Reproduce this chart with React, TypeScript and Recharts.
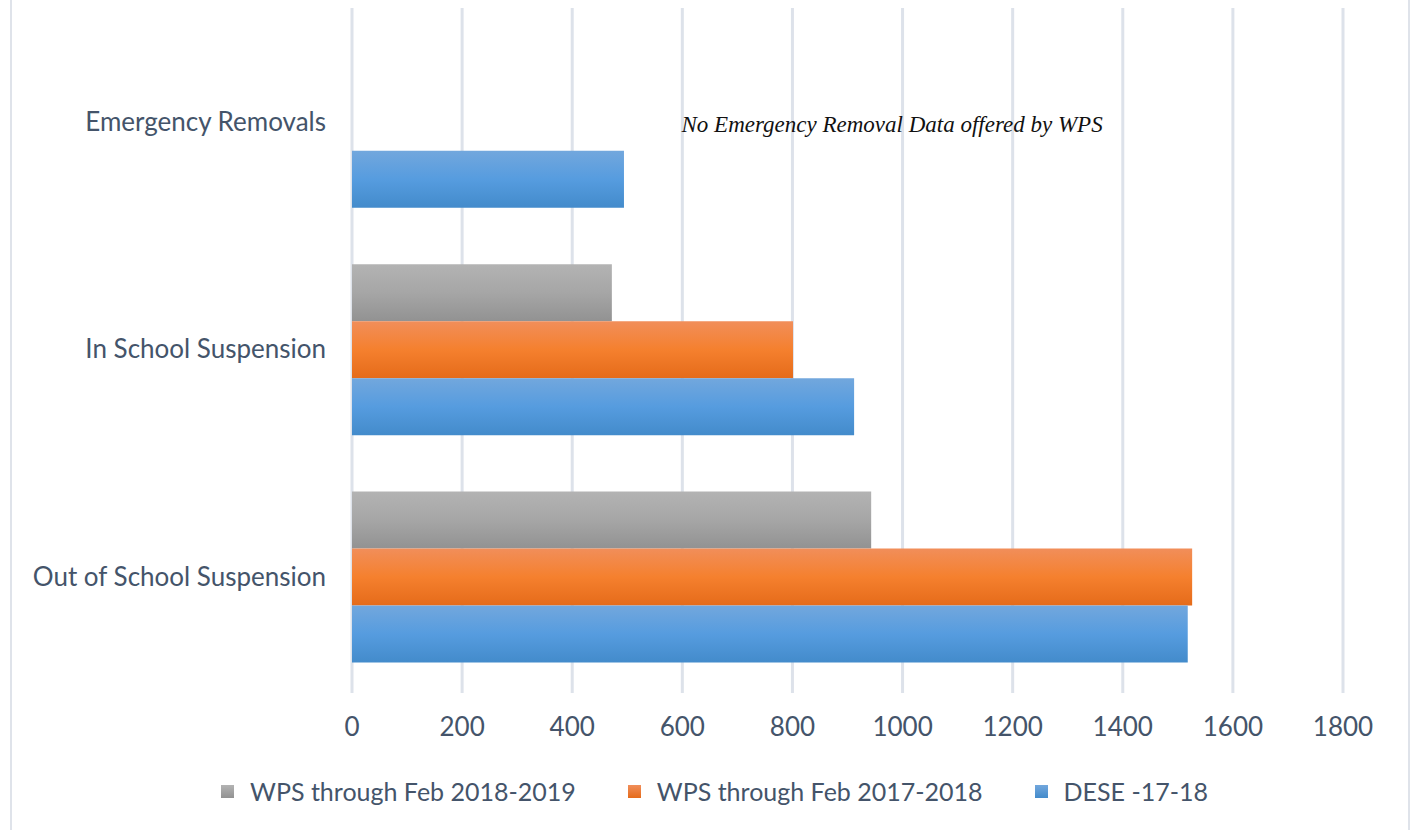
import React from 'react';
import { BarChart, Bar, XAxis, YAxis, CartesianGrid, Legend, ReferenceDot } from 'recharts';

// categories, top to bottom
const categories = ['Emergency Removals', 'In School Suspension', 'Out of School Suspension'];

// series values (null = no data)
const wps1819 = [null, 472, 943];
const wps1718 = [null, 801, 1526];
const dese1718 = [494, 912, 1518];

const seriesNames = ['WPS through Feb 2018-2019', 'WPS through Feb 2017-2018', 'DESE -17-18'];
const xTicks = [0, 200, 400, 600, 800, 1000, 1200, 1400, 1600, 1800];

const noteText = 'No Emergency Removal Data offered by WPS';
const noteX = 981;

const gradients = [
  { id: 'gGray', stops: ['#b3b3b3', '#a6a6a6', '#929292'] },
  { id: 'gOrange', stops: ['#f18e5a', '#f5802e', '#e56b1a'] },
  { id: 'gBlue', stops: ['#72a7dd', '#569cdf', '#438bcb'] },
];

const data = categories.map((name, i) => ({
  name,
  wps1819: wps1819[i],
  wps1718: wps1718[i],
  dese: dese1718[i],
}));

const textColor = '#44546a';
const gridColor = '#dde2ea';
const font = 'Lato, "Noto Sans", sans-serif';

const renderLegend = () => (
  <div
    style={{
      display: 'flex',
      justifyContent: 'center',
      alignItems: 'center',
      gap: 52,
      height: 40,
      fontFamily: font,
      fontSize: 25,
      color: textColor,
      paddingLeft: 86,
    }}
  >
    {seriesNames.map((n, i) => (
      <div key={n} style={{ display: 'flex', alignItems: 'center', gap: 16 }}>
        <span
          style={{
            width: 13,
            height: 13,
            display: 'inline-block',
            background: `linear-gradient(${gradients[i].stops[0]}, ${gradients[i].stops[2]})`,
          }}
        />
        <span>{n}</span>
      </div>
    ))}
  </div>
);

const App: React.FC = () => {
  return (
    <div style={{ position: 'absolute', left: 0, top: 0, width: 1411, height: 830, background: '#fff' }}>
      <div
        style={{
          position: 'absolute',
          left: 10,
          top: 0,
          width: 1396,
          height: 830,
          borderLeft: '2px solid #dfe3ea',
          borderRight: '2px solid #dfe3ea',
        }}
      />
      <BarChart
        width={1411}
        height={830}
        data={data}
        layout="vertical"
        margin={{ top: 8, right: 68, left: 0, bottom: 19 }}
        barCategoryGap="12.7%"
        barGap={0}
        style={{ position: 'absolute', left: 0, top: 0 }}
      >
        <defs>
          {gradients.map((g) => (
            <linearGradient key={g.id} id={g.id} x1="0" y1="0" x2="0" y2="1">
              <stop offset="0%" stopColor={g.stops[0]} />
              <stop offset="50%" stopColor={g.stops[1]} />
              <stop offset="100%" stopColor={g.stops[2]} />
            </linearGradient>
          ))}
        </defs>
        <CartesianGrid horizontal={false} stroke={gridColor} strokeWidth={3} />
        <XAxis
          type="number"
          domain={[0, 1800]}
          ticks={xTicks}
          axisLine={false}
          tickLine={{ stroke: gridColor, strokeWidth: 3 }}
          tickSize={3}
          tickMargin={25}
          height={81}
          tick={{ fill: textColor, fontFamily: font, fontSize: 26 }}
        />
        <YAxis
          type="category"
          dataKey="name"
          width={352}
          axisLine={false}
          tickLine={false}
          tickSize={0}
          tickMargin={26}
          tick={{ fill: textColor, fontFamily: font, fontSize: 26 }}
        />
        <Bar dataKey="wps1819" name={seriesNames[0]} fill="url(#gGray)" isAnimationActive={false} />
        <Bar dataKey="wps1718" name={seriesNames[1]} fill="url(#gOrange)" isAnimationActive={false} />
        <Bar dataKey="dese" name={seriesNames[2]} fill="url(#gBlue)" isAnimationActive={false} />
        <ReferenceDot
          x={noteX}
          y={categories[0]}
          r={0}
          fill="none"
          stroke="none"
          label={{
            value: noteText,
            position: 'center',
            fill: '#111',
            fontFamily: '"Liberation Serif", "DejaVu Serif", serif',
            fontStyle: 'italic',
            fontSize: 23,
            dy: 2,
          }}
        />
        <Legend verticalAlign="bottom" content={renderLegend} />
      </BarChart>
    </div>
  );
};

export default App;
